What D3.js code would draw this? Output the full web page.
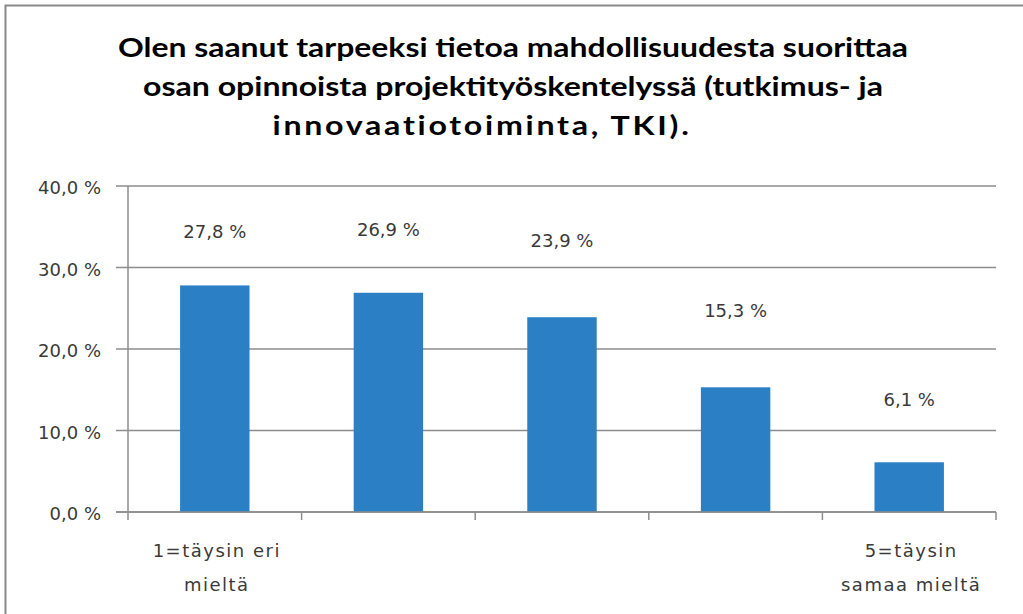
<!DOCTYPE html>
<html><head><meta charset="utf-8">
<script src="https://cdn.jsdelivr.net/npm/d3@7"></script>
<style>body{margin:0;background:#fff;} svg{display:block;}</style>
</head><body>
<svg id="c" width="1023" height="614"></svg>
<script>
const titleLines = ["Olen saanut tarpeeksi tietoa mahdollisuudesta suorittaa",
  "osan opinnoista projektityöskentelyssä (tutkimus- ja",
  "innovaatiotoiminta, TKI)."];
const categories = ["1", "2", "3", "4", "5"];
const categoryLabels = [["1=täysin eri", "mieltä"], [], [], [], ["5=täysin", "samaa mieltä"]];
const values = [27.8, 26.9, 23.9, 15.3, 6.1];
const yTicks = [0, 10, 20, 30, 40];
// layout only: pixel offsets of data labels above bar tops, title line widths/centres/spacing
const labelOffsets = [47, 57, 70, 70, 56];
const titleWidths = [790, 740, 419];
const titleCentres = [513, 513, 482];
const titleSpacing = [0, 0, 2.2];

const svg = d3.select("#c");
const tfont = "Lato, 'Open Sans', sans-serif";
const font = "'DejaVu Sans', sans-serif";
const textCol = "#3a3a3a";
// outer frame
svg.append("rect").attr("x", 5.5).attr("y", 5.5).attr("width", 1030).attr("height", 620)
  .attr("fill", "#fff").attr("stroke", "#8a8a8a").attr("stroke-width", 2);

const m = {left: 128, right: 996, top: 186, bottom: 512};
const x = d3.scaleBand().domain(categories).range([m.left, m.right]).paddingInner(0.6).paddingOuter(0.3);
const xb = d3.scaleBand().domain(categories).range([m.left, m.right]);
const y = d3.scaleLinear().domain([0, 40]).range([m.bottom, m.top]);

const fmt = v => d3.format(".1f")(v).replace(".", ",") + " %";

// title
svg.append("g").selectAll("text").data(titleLines).join("text")
  .attr("x", (d, i) => titleCentres[i]).attr("y", (d, i) => 57 + i * 39)
  .attr("text-anchor", "middle").attr("font-family", tfont).attr("font-weight", "bold")
  .attr("font-size", 26).attr("fill", "#000")
  .attr("letter-spacing", (d, i) => titleSpacing[i])
  .attr("textLength", (d, i) => titleWidths[i]).attr("lengthAdjust", "spacingAndGlyphs")
  .text(d => d);

// gridlines
svg.append("g").selectAll("line").data(yTicks).join("line")
  .attr("x1", m.left - 12).attr("x2", m.right).attr("y1", d => y(d)).attr("y2", d => y(d))
  .attr("stroke", "#8c8c8c").attr("stroke-width", 1.5);

// y axis line
svg.append("line").attr("x1", m.left).attr("x2", m.left).attr("y1", m.top).attr("y2", m.bottom + 8)
  .attr("stroke", "#8c8c8c").attr("stroke-width", 1.5);
// x ticks at band boundaries
const bounds = categories.map(c => xb(c) + xb.bandwidth());
svg.append("g").selectAll("line").data(bounds).join("line")
  .attr("x1", d => d).attr("x2", d => d).attr("y1", m.bottom).attr("y2", m.bottom + 8)
  .attr("stroke", "#8c8c8c").attr("stroke-width", 1.5);

// y tick labels
svg.append("g").selectAll("text").data(yTicks).join("text")
  .attr("x", 101).attr("y", d => y(d) + 8).attr("text-anchor", "end")
  .attr("font-family", font).attr("font-size", 18).attr("fill", textCol).text(fmt);

// bars
svg.append("g").selectAll("rect").data(values).join("rect")
  .attr("x", (d, i) => x(categories[i])).attr("width", x.bandwidth())
  .attr("y", d => y(d)).attr("height", d => y(0) - y(d)).attr("fill", "#2b80c5");

// zero line on top
svg.append("line").attr("x1", m.left - 12).attr("x2", m.right).attr("y1", y(0)).attr("y2", y(0))
  .attr("stroke", "#8c8c8c").attr("stroke-width", 1.5);

// data labels
svg.append("g").selectAll("text").data(values).join("text")
  .attr("x", (d, i) => xb(categories[i]) + xb.bandwidth() / 2)
  .attr("y", (d, i) => y(d) - labelOffsets[i])
  .attr("text-anchor", "middle").attr("font-family", font).attr("font-size", 18)
  .attr("fill", textCol).text(fmt);

// category labels
categoryLabels.forEach((lines, i) => {
  svg.append("g").selectAll("text").data(lines).join("text")
    .attr("x", xb(categories[i]) + xb.bandwidth() / 2 + 2).attr("y", (d, j) => 557 + j * 34)
    .attr("text-anchor", "middle").attr("font-family", font).attr("font-size", 18)
    .attr("letter-spacing", 1.5)
    .attr("fill", textCol).text(d => d);
});
</script>
</body></html>
